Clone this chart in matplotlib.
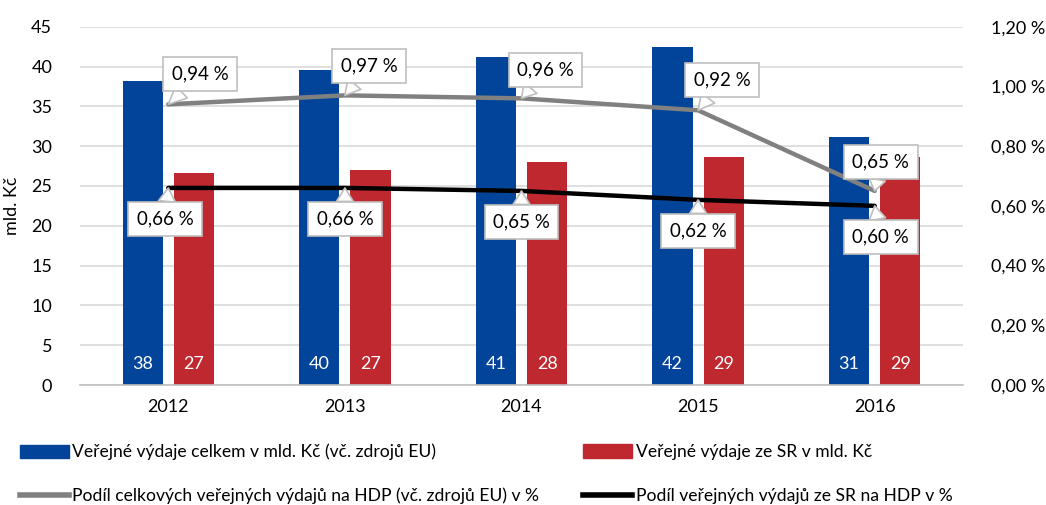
import matplotlib
matplotlib.use("Agg")
import matplotlib.pyplot as plt
import numpy as np
from matplotlib.patches import Patch
from matplotlib.lines import Line2D
from matplotlib.ticker import FuncFormatter, MultipleLocator

plt.rcParams['font.family'] = ['Lato', 'DejaVu Sans']

years = ["2012", "2013", "2014", "2015", "2016"]
total_spend = [38.2, 39.6, 41.2, 42.4, 31.2]
sr_spend = [26.6, 27.0, 28.0, 28.6, 28.6]
share_total = [0.94, 0.97, 0.96, 0.92, 0.65]
share_sr = [0.66, 0.66, 0.65, 0.62, 0.60]

label_total = "Veřejné výdaje celkem v mld. Kč (vč. zdrojů EU)"
label_sr = "Veřejné výdaje ze SR v mld. Kč"
label_share_total = "Podíl celkových veřejných výdajů na HDP (vč. zdrojů EU) v %"
label_share_sr = "Podíl veřejných výdajů ze SR na HDP v %"

BLUE = "#02449A"
RED = "#C0282F"
GRAY = "#808080"
GRID = "#D9D9D9"
TXT = "#000000"

fig = plt.figure(figsize=(10.46, 5.05), dpi=100)
ax = fig.add_axes([80/1046, 1-385/505, 883/1046, 358.3/505])
ax2 = ax.twinx()

x = np.arange(len(years))
w = 0.227
off = 0.145
ax.bar(x - off, total_spend, w, color=BLUE, zorder=2)
ax.bar(x + off, sr_spend, w, color=RED, zorder=2)
for xi, v in zip(x - off, total_spend):
    ax.text(xi, 2.6, f"{v:.0f}", color="white", ha="center", va="center", fontsize=13)
for xi, v in zip(x + off, sr_spend):
    ax.text(xi, 2.6, f"{v:.0f}", color="white", ha="center", va="center", fontsize=13)

ax.set_xlim(-0.5, len(years) - 0.5)
ax.set_ylim(0, 45)
ax.yaxis.set_major_locator(MultipleLocator(5))
ax.set_xticks(x)
ax.set_xticklabels(years)
ax.grid(axis="y", color=GRID, linewidth=1.2, zorder=0)
ax.set_axisbelow(True)
for s in ["top", "left", "right"]:
    ax.spines[s].set_visible(False)
ax.spines["bottom"].set_color("#BFBFBF")
ax.spines["bottom"].set_linewidth(1.2)
ax.tick_params(axis="both", length=0, labelsize=13, colors=TXT)
ax.tick_params(axis="y", pad=20)
ax.tick_params(axis="x", pad=10)
ax.set_ylabel("mld. Kč", fontsize=13, labelpad=8)

ax2.set_ylim(0, 1.2)
ax2.yaxis.set_major_locator(MultipleLocator(0.2))
ax2.yaxis.set_major_formatter(FuncFormatter(lambda v, p: f"{v:.2f}".replace(".", ",") + " %"))
for s in ["top", "left", "right", "bottom"]:
    ax2.spines[s].set_visible(False)
ax2.tick_params(axis="y", length=0, labelsize=13, colors=TXT, pad=20)

ax2.plot(x, share_total, color=GRAY, linewidth=3.2, solid_capstyle="round", zorder=3)
ax2.plot(x, share_sr, color="black", linewidth=3.2, solid_capstyle="round", zorder=3)

px = 0.72
offs_total = [(32, 30), (24, 29), (24, 28), (24, 30), (6, 29)]
offs_sr = [(-3, -31), (0, -31), (0, -31), (0, -31), (6, -31)]

def callout(xv, yv, dx, dy):
    ax2.annotate(f"{yv:.2f}".replace(".", ",") + " %", xy=(xv, yv),
                 xytext=(dx * px, dy * px), textcoords="offset points",
                 ha="center", va="center", fontsize=13.5, zorder=5,
                 bbox=dict(boxstyle="square,pad=0.45", fc="white", ec="#BFBFBF", lw=1.2),
                 arrowprops=dict(arrowstyle="wedge,tail_width=0.9,shrink_factor=0.5",
                                 fc="white", ec="#BFBFBF", lw=1.2,
                                 shrinkA=0, shrinkB=0))

for xi, v, (dx, dy) in zip(x, share_total, offs_total):
    callout(xi, v, dx, dy)
for xi, v, (dx, dy) in zip(x, share_sr, offs_sr):
    callout(xi, v, dx, dy)

def leg(handle, label, xpos, ypos):
    l = fig.legend([handle], [label], loc="center left", bbox_to_anchor=(xpos, ypos),
                   frameon=False, fontsize=12.6, handlelength=2.8, handleheight=0.8,
                   handletextpad=0.2, borderaxespad=0, borderpad=0)
    return l

leg(Patch(color=BLUE), label_total, 20/1046, 1-452/505)
leg(Patch(color=RED), label_sr, 583/1046, 1-452/505)
leg(Line2D([], [], color=GRAY, lw=4), label_share_total, 20/1046, 1-496/505)
leg(Line2D([], [], color="black", lw=4), label_share_sr, 583/1046, 1-496/505)

fig.savefig("out.png", dpi=100)
